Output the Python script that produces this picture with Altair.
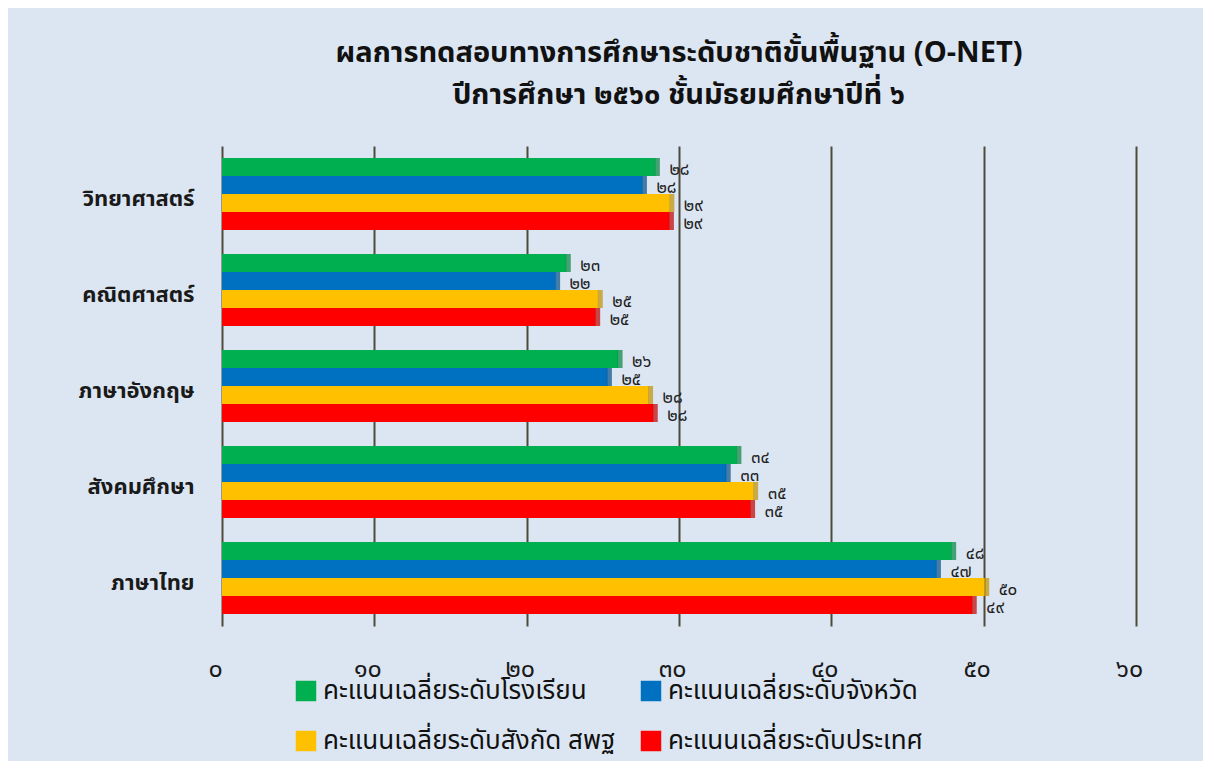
import altair as alt
import pandas as pd

subjects = ["วิทยาศาสตร์", "คณิตศาสตร์", "ภาษาอังกฤษ", "สังคมศึกษา", "ภาษาไทย"]
series_names = [
    "คะแนนเฉลี่ยระดับโรงเรียน",
    "คะแนนเฉลี่ยระดับจังหวัด",
    "คะแนนเฉลี่ยระดับสังกัด สพฐ",
    "คะแนนเฉลี่ยระดับประเทศ",
]
series_colors = ["#00B050", "#0070C0", "#FFC000", "#FF0000"]
side_colors = ["#00843C", "#004F8A", "#BF9000", "#C00000"]

school = [28.45, 22.6, 26.0, 33.8, 47.9]
province = [27.6, 21.9, 25.3, 33.1, 46.9]
obec = [29.4, 24.7, 28.0, 34.9, 50.07]
national = [29.37, 24.53, 28.31, 34.70, 49.25]

school_labels = ["๒๘", "๒๓", "๒๖", "๓๔", "๔๘"]
province_labels = ["๒๘", "๒๒", "๒๕", "๓๓", "๔๗"]
obec_labels = ["๒๙", "๒๕", "๒๘", "๓๕", "๕๐"]
national_labels = ["๒๙", "๒๕", "๒๘", "๓๕", "๔๙"]

tick_values = [0, 10, 20, 30, 40, 50, 60]
tick_labels = ["๐", "๑๐", "๒๐", "๓๐", "๔๐", "๕๐", "๖๐"]

title_lines = [
    "ผลการทดสอบทางการศึกษาระดับชาติขั้นพื้นฐาน (O-NET)",
    "ปีการศึกษา ๒๕๖๐  ชั้นมัธยมศึกษาปีที่ ๖",
]

FONT = "Noto Sans Thai, Noto Sans, Loma, Garuda, sans-serif"

rows = []
for vals, labs, name in zip([school, province, obec, national],
                            [school_labels, province_labels, obec_labels, national_labels],
                            series_names):
    for subj, v, lab in zip(subjects, vals, labs):
        rows.append({"subject": subj, "series": name, "value": v, "label": lab})
df = pd.DataFrame(rows)

label_expr = "[" + ",".join("'" + t + "'" for t in tick_labels) + "][round(datum.value/10)]"

y_enc = alt.Y("subject:N", sort=subjects, title=None,
              scale=alt.Scale(paddingInner=0.25, paddingOuter=0.125),
              axis=alt.Axis(labelFontSize=22, labelFontWeight="bold", labelColor="#1a1a1a",
                            labelPadding=28, ticks=False, domain=False, labelFont=FONT,
                            labelOffset=5))
yoff = alt.YOffset("series:N", sort=series_names, scale=alt.Scale(paddingInner=0, paddingOuter=0))
x_enc = alt.X("value:Q", title=None,
              scale=alt.Scale(domain=[0, 60], nice=False),
              axis=alt.Axis(values=tick_values, labelExpr=label_expr, grid=True,
                            gridColor="#4F4B3B", gridWidth=2, gridOpacity=1,
                            domain=False, ticks=False, labelFontSize=25, labelPadding=30,
                            labelColor="#1a1a1a", labelFont=FONT, labelOffset=-7,
                            labelFlush=False, labelOverlap=False))

bars = alt.Chart(df).mark_bar().encode(
    x=x_enc,
    y=y_enc,
    yOffset=yoff,
    color=alt.Color("series:N", sort=series_names,
                    scale=alt.Scale(domain=series_names, range=series_colors),
                    legend=alt.Legend(title=None, orient="none", legendX=71, legendY=532,
                                      columns=2, direction="horizontal",
                                      symbolType="square", symbolSize=420,
                                      symbolStrokeWidth=0, labelFontSize=26,
                                      labelColor="#111111", labelFont=FONT,
                                      columnPadding=22, rowPadding=24, labelLimit=400,
                                      symbolOffset=0)),
)

sides = alt.Chart(df).mark_tick(thickness=5, size=18, xOffset=2).encode(
    x="value:Q",
    y=alt.Y("subject:N", sort=subjects),
    yOffset=alt.YOffset("series:N", sort=series_names),
    color=alt.Color("series:N", sort=series_names,
                    scale=alt.Scale(domain=series_names, range=side_colors), legend=None),
)

texts = alt.Chart(df).mark_text(align="left", baseline="middle", dx=14, dy=3,
                                fontSize=17, color="#222222", font=FONT).encode(
    x="value:Q",
    y=alt.Y("subject:N", sort=subjects),
    yOffset=alt.YOffset("series:N", sort=series_names),
    text="label:N",
)

chart = alt.layer(bars, sides, texts).resolve_scale(color="independent").properties(
    width=914, height=480,
    background="#DCE6F2",
    padding={"left": 214, "top": 138, "right": 67, "bottom": 135},
    autosize=alt.AutoSizeParams(type="none"),
    title=alt.TitleParams(text=title_lines, fontSize=29, fontWeight="bold", font=FONT,
                          color="#111111", anchor="middle", offset=36, lineHeight=42),
).configure_view(stroke=None)

chart.save("out.html", embed_options={"renderer": "svg", "actions": False})
